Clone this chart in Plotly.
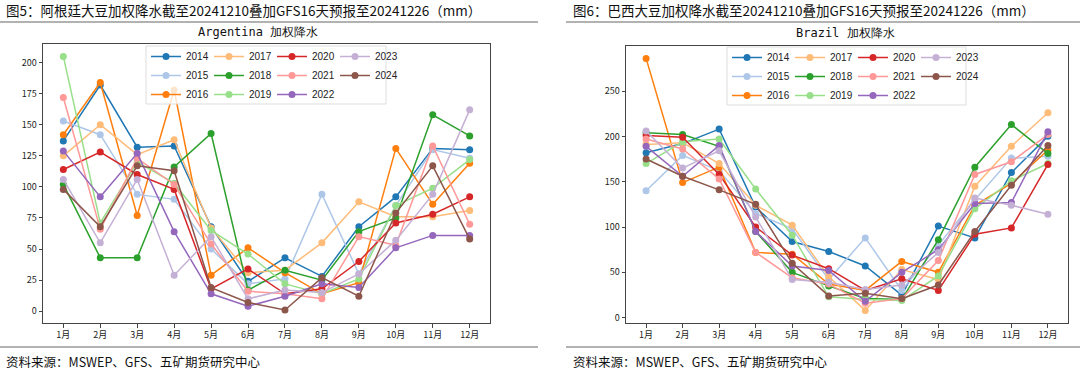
import plotly.graph_objects as go

months = ["1月", "2月", "3月", "4月", "5月", "6月", "7月", "8月", "9月", "10月", "11月", "12月"]
years = ["2014", "2015", "2016", "2017", "2018", "2019", "2020", "2021", "2022", "2023", "2024"]
colors = ["#1f77b4", "#aec7e8", "#ff7f0e", "#ffbb78", "#2ca02c", "#98df8a",
          "#d62728", "#ff9896", "#9467bd", "#c5b0d5", "#8c564b"]

arg_2014 = [137, 182, 132, 133, 68, 24, 43, 28, 68, 92, 131, 130]
arg_2015 = [153, 142, 94, 90, 50, 22, 26, 94, 30, 85, 130, 123]
arg_2016 = [142, 184, 77, 178, 29, 51, 31, 14, 23, 131, 86, 119]
arg_2017 = [125, 150, 126, 138, 67, 31, 33, 55, 88, 76, 76, 81]
arg_2018 = [102, 43, 43, 116, 143, 17, 33, 25, 64, 75, 158, 141]
arg_2019 = [205, 71, 120, 103, 65, 46, 22, 14, 26, 85, 99, 122]
arg_2020 = [114, 128, 110, 98, 18, 34, 14, 18, 40, 71, 78, 92]
arg_2021 = [172, 66, 123, 102, 54, 16, 14, 10, 60, 53, 133, 70]
arg_2022 = [129, 92, 127, 64, 14, 4, 12, 22, 19, 51, 61, 61]
arg_2023 = [106, 55, 106, 29, 60, 10, 17, 15, 30, 57, 94, 162]
arg_2024 = [98, 68, 117, 113, 19, 7, 1, 27, 12, 79, 117, 58]

bra_2014 = [182, 192, 208, 122, 84, 73, 57, 25, 101, 88, 160, 200]
bra_2015 = [140, 179, 162, 115, 98, 42, 88, 30, 80, 130, 176, 178]
bra_2016 = [286, 149, 166, 72, 70, 37, 30, 62, 50, 124, 148, 185]
bra_2017 = [191, 193, 170, 124, 102, 45, 8, 53, 42, 145, 189, 226]
bra_2018 = [204, 202, 189, 95, 50, 35, 21, 20, 86, 166, 213, 181]
bra_2019 = [170, 194, 197, 142, 91, 23, 20, 19, 46, 120, 151, 170]
bra_2020 = [201, 199, 158, 100, 69, 54, 30, 43, 30, 92, 99, 169]
bra_2021 = [197, 186, 153, 72, 44, 37, 16, 21, 63, 158, 172, 202]
bra_2022 = [189, 156, 190, 95, 57, 52, 18, 50, 75, 126, 127, 205]
bra_2023 = [206, 165, 184, 111, 42, 39, 31, 36, 72, 132, 124, 114]
bra_2024 = [175, 156, 141, 125, 60, 24, 27, 21, 36, 95, 146, 190]

arg = [arg_2014, arg_2015, arg_2016, arg_2017, arg_2018, arg_2019,
       arg_2020, arg_2021, arg_2022, arg_2023, arg_2024]
bra = [bra_2014, bra_2015, bra_2016, bra_2017, bra_2018, bra_2019,
       bra_2020, bra_2021, bra_2022, bra_2023, bra_2024]

arg_yticks = [0, 25, 50, 75, 100, 125, 150, 175, 200]
bra_yticks = [0, 50, 100, 150, 200, 250]

W, H = 1080, 374
FONT = "Noto Sans CJK SC"


def px_x(v):
    return v / W


def px_y(v):
    return 1 - v / H


fig = go.Figure()


# each chart gets 4 legend columns (3 entries each, column-major like matplotlib ncol=4)
def legend_name(chart, i):
    idx = chart * 4 + i // 3 + 1
    return "legend" if idx == 1 else "legend%d" % idx


for i, y in enumerate(years):
    fig.add_trace(go.Scatter(
        x=months, y=arg[i], name=y, mode="lines+markers",
        line=dict(color=colors[i], width=1.5),
        marker=dict(color=colors[i], size=7),
        xaxis="x", yaxis="y", legend=legend_name(0, i),
    ))
for i, y in enumerate(years):
    fig.add_trace(go.Scatter(
        x=months, y=bra[i], name=y, mode="lines+markers",
        line=dict(color=colors[i], width=1.5),
        marker=dict(color=colors[i], size=7),
        xaxis="x2", yaxis="y2", legend=legend_name(1, i),
    ))

axis_common = dict(
    showgrid=False, zeroline=False, showline=True, mirror=True,
    linecolor="#444", linewidth=1, ticks="outside", ticklen=3.5,
    tickcolor="#444", tickfont=dict(family=FONT, size=9, color="#222"),
)

legend_common = dict(
    orientation="v", bgcolor="rgba(0,0,0,0)", borderwidth=0,
    font=dict(family="Liberation Sans", size=10, color="#222"),
    itemwidth=30, xanchor="left", yanchor="top", tracegroupgap=0,
    traceorder="normal",
)

LEG_TOP = 42
col_x_arg = [146, 209, 272, 335]
col_x_bra = [727, 790, 853, 916]
legends = {}
for c in range(4):
    legends[legend_name(0, 3 * c)] = dict(x=px_x(col_x_arg[c]), y=px_y(LEG_TOP), **legend_common)
    legends[legend_name(1, 3 * c)] = dict(x=px_x(col_x_bra[c]), y=px_y(LEG_TOP + 1), **legend_common)

fig.update_layout(
    width=W, height=H,
    margin=dict(l=0, r=0, t=0, b=0),
    paper_bgcolor="white", plot_bgcolor="white",
    xaxis=dict(domain=[px_x(43), px_x(490)], range=[-0.55, 11.55], anchor="y",
               **axis_common),
    yaxis=dict(domain=[px_y(323), px_y(44)], range=[-9.5, 215], anchor="x",
               tickvals=arg_yticks, **axis_common),
    xaxis2=dict(domain=[px_x(626), px_x(1068)], range=[-0.55, 11.55], anchor="y2",
                **axis_common),
    yaxis2=dict(domain=[px_y(323), px_y(45.7)], range=[-5.9, 300], anchor="x2",
                tickvals=bra_yticks, **axis_common),
    **legends,
)

annotations = [
    dict(text="图5：阿根廷大豆加权降水截至20241210叠加GFS16天预报至20241226（mm）",
         x=px_x(4), y=px_y(10), xanchor="left", yanchor="middle",
         font=dict(family=FONT, size=13.5, color="#111")),
    dict(text="图6：巴西大豆加权降水截至20241210叠加GFS16天预报至20241226（mm）",
         x=px_x(571), y=px_y(10), xanchor="left", yanchor="middle",
         font=dict(family=FONT, size=13.5, color="#111")),
    dict(text="Argentina 加权降水", x=px_x(258), y=px_y(32),
         xanchor="center", yanchor="middle",
         font=dict(family="DejaVu Sans Mono", size=12, color="#111")),
    dict(text="Brazil 加权降水", x=px_x(845), y=px_y(33),
         xanchor="center", yanchor="middle",
         font=dict(family="DejaVu Sans Mono", size=12, color="#111")),
    dict(text="资料来源：MSWEP、GFS、五矿期货研究中心", x=px_x(4), y=px_y(361),
         xanchor="left", yanchor="middle",
         font=dict(family=FONT, size=12.5, color="#111")),
    dict(text="资料来源：MSWEP、GFS、五矿期货研究中心", x=px_x(571), y=px_y(361),
         xanchor="left", yanchor="middle",
         font=dict(family=FONT, size=12.5, color="#111")),
]
for a in annotations:
    a.update(xref="paper", yref="paper", showarrow=False)
fig.update_layout(annotations=annotations)

shapes = []
for (x0, x1) in [(0, 538), (566, 1080)]:
    for yy in (22, 347):
        shapes.append(dict(type="line", xref="paper", yref="paper",
                           x0=px_x(x0), x1=px_x(x1), y0=px_y(yy), y1=px_y(yy),
                           line=dict(color="#999", width=1.5)))
# legend frames
for (x0, x1, y0) in [(col_x_arg[0], 386, LEG_TOP + 4), (col_x_bra[0], 966, LEG_TOP + 5)]:
    shapes.append(dict(type="rect", xref="paper", yref="paper", layer="above",
                       x0=px_x(x0), x1=px_x(x1), y0=px_y(y0), y1=px_y(y0 + 58),
                       fillcolor="rgba(255,255,255,0.8)",
                       line=dict(color="#dddddd", width=1)))
fig.update_layout(shapes=shapes)

fig.write_html(
    "out.html",
    config={"displayModeBar": False},
    post_script="document.body.style.margin='0';document.body.style.overflow='hidden';",
)
